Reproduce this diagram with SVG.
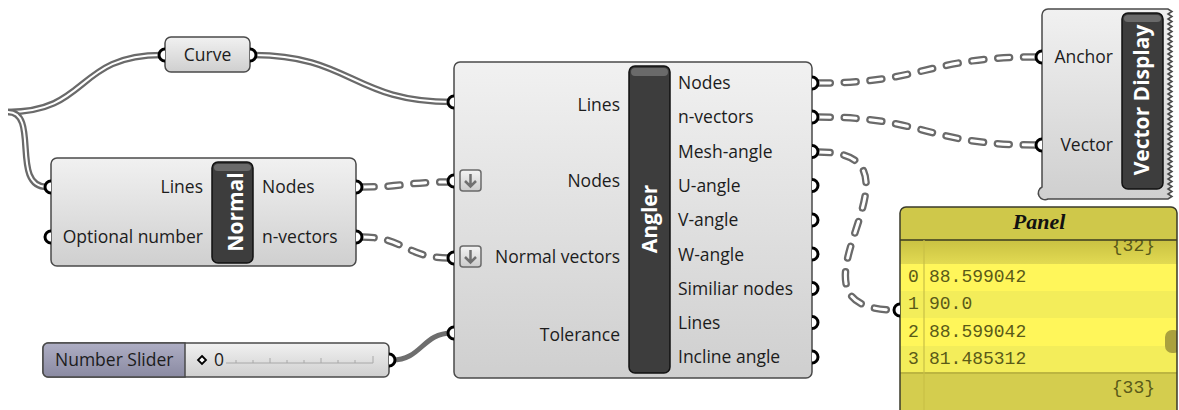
<svg xmlns="http://www.w3.org/2000/svg" width="1179" height="410" viewBox="0 0 1179 410">
<defs>
<linearGradient id="nodeGrad" x1="0" y1="0" x2="0" y2="1"><stop offset="0" stop-color="#f1f1f1"/><stop offset="1" stop-color="#cfcfcf"/></linearGradient>
<linearGradient id="sliderGrad" x1="0" y1="0" x2="0" y2="1"><stop offset="0" stop-color="#aeaec4"/><stop offset="1" stop-color="#8a8aa2"/></linearGradient>
<linearGradient id="iconGrad" x1="0" y1="0" x2="0" y2="1"><stop offset="0" stop-color="#f4f4f4"/><stop offset="1" stop-color="#cccccc"/></linearGradient>
<linearGradient id="band32" x1="0" y1="0" x2="0" y2="1"><stop offset="0" stop-color="#c9c142"/><stop offset="1" stop-color="#e2da52"/></linearGradient>
<clipPath id="panelClip"><rect x="900" y="207" width="277" height="210" rx="6"/></clipPath>
</defs>
<style>
.node{fill:url(#nodeGrad);stroke:#4a4a4a;stroke-width:1.5}
.bar{fill:#3d3d3d;stroke:#111;stroke-width:1.5}
.hl{fill:#6a6a6a}
.lbl{font-family:"Open Sans","DejaVu Sans",sans-serif;font-size:17.5px;fill:#1c1c1c}
.end{text-anchor:end}
.title{font-family:"Open Sans","DejaVu Sans",sans-serif;font-size:21px;font-weight:bold;fill:#ffffff;text-anchor:middle}
.port{fill:#ffffff;stroke:#000;stroke-width:3}
.w-out{fill:none;stroke:#6a6a6a;stroke-width:6.5}
.w-in{fill:none;stroke:#ffffff;stroke-width:2}
.d-out{fill:none;stroke:#6a6a6a;stroke-width:7.5;stroke-linecap:round;stroke-dasharray:12 14}
.d-in{fill:none;stroke:#ffffff;stroke-width:3;stroke-linecap:round;stroke-dasharray:12 14}
.solid{fill:none;stroke:#6e6e6e;stroke-width:5}
.mono{font-family:"Liberation Mono","Courier New",monospace;font-size:18px;fill:#5a5a18}
.icon{fill:url(#iconGrad);stroke:#6a6a6a;stroke-width:1.5}
.arrow{fill:none;stroke:#707070;stroke-width:2.5}
.tick{stroke:#a8a8a8;stroke-width:1}
</style>

<g id="connectors">
<path class="w-out" d="M8,112 C90,112 75,55 162,55"/>
<path class="w-in" d="M8,112 C90,112 75,55 162,55"/>
<path class="w-out" d="M8,112 C40,112 10,187 47,187"/>
<path class="w-in" d="M8,112 C40,112 10,187 47,187"/>
<path class="w-out" d="M252,55 C352,55 352,102 452,102"/>
<path class="w-in" d="M252,55 C352,55 352,102 452,102"/>
<path class="d-out" d="M362,187 C405,187 405,182 450,182"/>
<path class="d-in" d="M362,187 C405,187 405,182 450,182"/>
<path class="d-out" d="M362,237 C405,237 405,258 450,258"/>
<path class="d-in" d="M362,237 C405,237 405,258 450,258"/>
<path class="solid" d="M392,360 C422,360 422,333 452,333"/>
<path class="d-out" d="M818,83 C926,83 926,57 1036,57"/>
<path class="d-in" d="M818,83 C926,83 926,57 1036,57"/>
<path class="d-out" d="M818,117 C926,117 926,145 1036,145"/>
<path class="d-in" d="M818,117 C926,117 926,145 1036,145"/>
<path class="d-out" d="M818,152 C945,152 765,310 896,310"/>
<path class="d-in" d="M818,152 C945,152 765,310 896,310"/>
</g>

<g id="curve">
<rect class="node" x="165" y="37" width="85" height="35" rx="6"/>
<text class="lbl" x="207.5" y="61" text-anchor="middle">Curve</text>
<path class="port" d="M165,49 A6,6 0 0 0 165,61"/>
<path class="port" d="M250,49 A6,6 0 0 1 250,61"/>
</g>

<g id="normal">
<rect class="node" x="51" y="158" width="305" height="108" rx="6"/>
<rect class="bar" x="212" y="162" width="41" height="101" rx="6"/>
<rect class="hl" x="214" y="164" width="37" height="7" rx="4"/>
<text class="title" transform="translate(243,212) rotate(-90)">Normal</text>
<text class="lbl end" x="203" y="193">Lines</text>
<text class="lbl end" x="203" y="243">Optional number</text>
<text class="lbl" x="262" y="193">Nodes</text>
<text class="lbl" x="262" y="243">n-vectors</text>
<path class="port" d="M51,181 A6,6 0 0 0 51,193"/>
<path class="port" d="M51,231 A6,6 0 0 0 51,243"/>
<path class="port" d="M356,181 A6,6 0 0 1 356,193"/>
<path class="port" d="M356,231 A6,6 0 0 1 356,243"/>
</g>

<g id="slider">
<rect class="node" x="43" y="343" width="346" height="34" rx="5"/>
<path d="M48,343 H185 V377 H48 A5,5 0 0 1 43,372 V348 A5,5 0 0 1 48,343 Z" fill="url(#sliderGrad)" stroke="#4a4a4a" stroke-width="1.5"/>
<text class="lbl" x="55" y="366">Number Slider</text>
<path d="M202,356 L206,360 L202,364 L198,360 Z" fill="#fff" stroke="#000" stroke-width="1.8"/>
<text class="lbl" x="214" y="366">0</text>
<line class="tick" x1="226" y1="363" x2="373" y2="363"/>
<g class="tick">
<line x1="236" y1="360" x2="236" y2="363"/><line x1="253" y1="360" x2="253" y2="363"/><line x1="270" y1="358" x2="270" y2="363"/><line x1="287" y1="360" x2="287" y2="363"/><line x1="304" y1="360" x2="304" y2="363"/><line x1="321" y1="358" x2="321" y2="363"/><line x1="338" y1="360" x2="338" y2="363"/><line x1="355" y1="360" x2="355" y2="363"/><line x1="373" y1="356" x2="373" y2="363"/>
</g>
<path class="port" d="M389,354 A6,6 0 0 1 389,366"/>
</g>

<g id="angler">
<rect class="node" x="454" y="62" width="358" height="316" rx="6"/>
<rect class="bar" x="629" y="66" width="41" height="307" rx="6"/>
<rect class="hl" x="631" y="68" width="37" height="8" rx="4"/>
<text class="title" transform="translate(657,219) rotate(-90)">Angler</text>
<rect class="icon" x="460" y="170" width="21" height="21" rx="3"/>
<path class="arrow" d="M470.5,174 V186 M465,181 L470.5,186.5 L476,181"/>
<rect class="icon" x="460" y="246" width="21" height="21" rx="3"/>
<path class="arrow" d="M470.5,250 V262 M465,257 L470.5,262.5 L476,257"/>
<text class="lbl end" x="620" y="111">Lines</text>
<text class="lbl end" x="620" y="187">Nodes</text>
<text class="lbl end" x="620" y="263">Normal vectors</text>
<text class="lbl end" x="620" y="341">Tolerance</text>
<text class="lbl" x="678" y="89">Nodes</text>
<text class="lbl" x="678" y="123.3">n-vectors</text>
<text class="lbl" x="678" y="157.6">Mesh-angle</text>
<text class="lbl" x="678" y="191.9">U-angle</text>
<text class="lbl" x="678" y="226.2">V-angle</text>
<text class="lbl" x="678" y="260.5">W-angle</text>
<text class="lbl" x="678" y="294.8">Similiar nodes</text>
<text class="lbl" x="678" y="329.1">Lines</text>
<text class="lbl" x="678" y="363.4">Incline angle</text>
<path class="port" d="M454,96 A6,6 0 0 0 454,108"/>
<path class="port" d="M454,175 A6,6 0 0 0 454,187"/>
<path class="port" d="M454,252 A6,6 0 0 0 454,264"/>
<path class="port" d="M454,327 A6,6 0 0 0 454,339"/>
<path class="port" d="M812,77 A6,6 0 0 1 812,89"/>
<path class="port" d="M812,111 A6,6 0 0 1 812,123"/>
<path class="port" d="M812,145.5 A6,6 0 0 1 812,157.5"/>
<path class="port" d="M812,179.5 A6,6 0 0 1 812,191.5"/>
<path class="port" d="M812,214 A6,6 0 0 1 812,226"/>
<path class="port" d="M812,248 A6,6 0 0 1 812,260"/>
<path class="port" d="M812,282.5 A6,6 0 0 1 812,294.5"/>
<path class="port" d="M812,316.5 A6,6 0 0 1 812,328.5"/>
<path class="port" d="M812,351 A6,6 0 0 1 812,363"/>
</g>

<g id="vector-display">
<path class="node" d="M1048,9 H1168 l4,2.5 l-4,2.5 l4,2.5 l-4,2.5 l4,2.5 l-4,2.5 l4,2.5 l-4,2.5 l4,2.5 l-4,2.5 l4,2.5 l-4,2.5 l4,2.5 l-4,2.5 l4,2.5 l-4,2.5 l4,2.5 l-4,2.5 l4,2.5 l-4,2.5 l4,2.5 l-4,2.5 l4,2.5 l-4,2.5 l4,2.5 l-4,2.5 l4,2.5 l-4,2.5 l4,2.5 l-4,2.5 l4,2.5 l-4,2.5 l4,2.5 l-4,2.5 l4,2.5 l-4,2.5 l4,2.5 l-4,2.5 l4,2.5 l-4,2.5 l4,2.5 l-4,2.5 l4,2.5 l-4,2.5 l4,2.5 l-4,2.5 l4,2.5 l-4,2.5 l4,2.5 l-4,2.5 l4,2.5 l-4,2.5 l4,2.5 l-4,2.5 l4,2.5 l-4,2.5 l4,2.5 l-4,2.5 l4,2.5 l-4,2.5 l4,2.5 l-4,2.5 l4,2.5 l-4,2.5 l4,2.5 l-4,2.5 l4,2.5 l-4,2.5 l4,2.5 l-4,2.5 l4,2.5 l-4,2.5 l4,2.5 l-4,2.5 l4,2.5 l-4,2.5 H1048 A6,6 0 0 1 1042,187 V15 A6,6 0 0 1 1048,9 Z"/>
<rect class="bar" x="1122" y="13" width="41" height="176" rx="6"/>
<rect class="hl" x="1124" y="15" width="37" height="7" rx="4"/>
<text class="title" transform="translate(1149,100) rotate(-90)">Vector Display</text>
<text class="lbl end" x="1113" y="63">Anchor</text>
<text class="lbl end" x="1113" y="151">Vector</text>
<path class="port" d="M1042,51 A6,6 0 0 0 1042,63"/>
<path class="port" d="M1042,139 A6,6 0 0 0 1042,151"/>
</g>

<g id="panel">
<g clip-path="url(#panelClip)">
<rect x="900" y="207" width="277" height="210" fill="#d4cd4e"/>
<rect x="900" y="240" width="277" height="24" fill="url(#band32)"/>
<text class="mono" x="1155" y="251" text-anchor="end">{32}</text>
<rect x="900" y="207" width="277" height="33" fill="#cfc84a"/>
<line x1="900" y1="240" x2="1177" y2="240" stroke="#3a3a20" stroke-width="1.5"/>
<rect x="900" y="264" width="277" height="27" fill="#fff65a"/>
<rect x="900" y="291" width="277" height="27" fill="#f3ed5a"/>
<rect x="900" y="318" width="277" height="28" fill="#fff65a"/>
<rect x="900" y="346" width="277" height="26" fill="#f3ed5a"/>
<line x1="900" y1="373" x2="1177" y2="373" stroke="#b4ac3c" stroke-width="1.5"/>
<line x1="924" y1="240" x2="924" y2="410" stroke="#c8c046" stroke-width="1.2"/>
<rect x="1165" y="330" width="16" height="23" rx="7" fill="#aaa13e"/>
<text x="1039" y="229" text-anchor="middle" font-family="Liberation Serif,'Times New Roman',serif" font-size="22" font-weight="bold" font-style="italic" fill="#111">Panel</text>
<text class="mono" x="908" y="282">0</text>
<text class="mono" x="929" y="282">88.599042</text>
<text class="mono" x="908" y="309.3">1</text>
<text class="mono" x="929" y="309.3">90.0</text>
<text class="mono" x="908" y="336.6">2</text>
<text class="mono" x="929" y="336.6">88.599042</text>
<text class="mono" x="908" y="364">3</text>
<text class="mono" x="929" y="364">81.485312</text>
<text class="mono" x="1155" y="393" text-anchor="end">{33}</text>
</g>
<rect x="900" y="207" width="277" height="215" rx="6" fill="none" stroke="#3a3a2a" stroke-width="1.5"/>
<path class="port" d="M900,304 A6,6 0 0 0 900,316"/>
</g>
</svg>
